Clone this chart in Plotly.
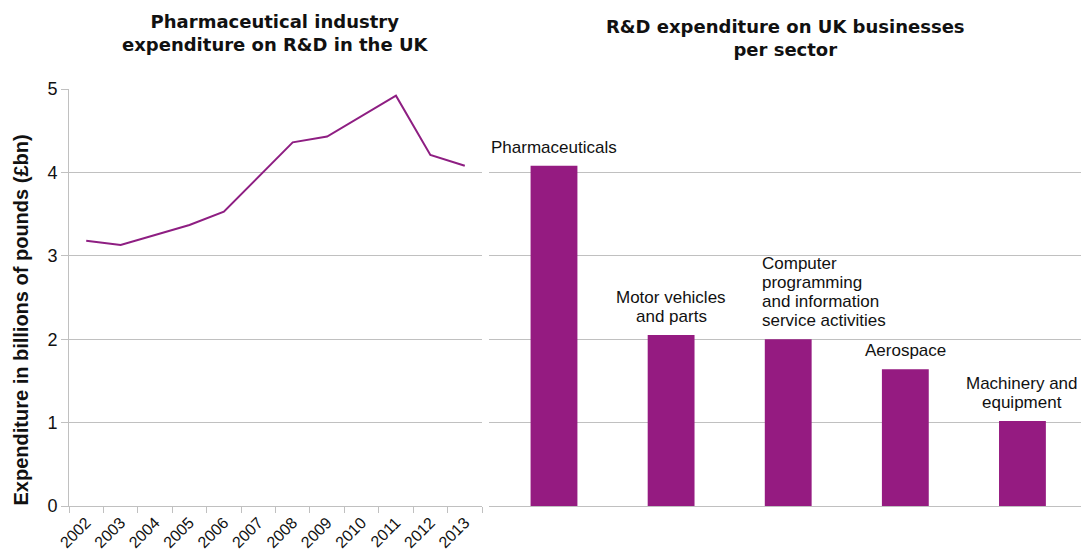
import plotly.graph_objects as go

# left chart: pharma R&D spend per year (bn GBP)
years = ['2002', '2003', '2004', '2005', '2006', '2007', '2008', '2009', '2010', '2011', '2012', '2013']
pharma_spend = [3.18, 3.13, 3.25, 3.37, 3.53, 3.94, 4.36, 4.43, 4.68, 4.92, 4.21, 4.08]

# right chart: R&D spend per sector
sectors = ['Pharmaceuticals', 'Motor vehicles<br>and parts',
           'Computer<br>programming<br>and information<br>service activities',
           'Aerospace', 'Machinery and<br>equipment']
sector_spend = [4.08, 2.05, 2.00, 1.64, 1.02]

purple = '#951B81'
grid = '#C0C0C0'
font = 'Liberation Sans, Arial, Helvetica, sans-serif'
bold_font = 'DejaVu Sans, Liberation Sans, sans-serif'
W, H = 1083, 552

fig = go.Figure()
fig.add_trace(go.Scatter(
    x=years, y=pharma_spend, mode='lines',
    line=dict(color='#8E1E82', width=2),
    xaxis='x', yaxis='y', showlegend=False
))
fig.add_trace(go.Bar(
    x=sectors, y=sector_spend, width=0.4,
    marker=dict(color=purple, line=dict(width=0)),
    xaxis='x2', yaxis='y2', showlegend=False
))

# sector labels above the bars, one annotation per line for tighter spacing
for i, (s, v) in enumerate(zip(sectors, sector_spend)):
    left = i == 2
    lines = s.split('<br>')
    for j, txt in enumerate(reversed(lines)):
        fig.add_annotation(
            x=s, y=v, xref='x2', yref='y2', text=txt, showarrow=False,
            xanchor='left' if left else 'center',
            xshift=-28 if left else 0, yanchor='bottom', yshift=7 + 19 * j,
            font=dict(size=17, color='#111111', family=font)
        )

fig.add_annotation(x=0.5, y=1 - 9 / H, xref='x domain', yref='paper',
                   text='<b>Pharmaceutical industry<br>expenditure on R&D in the UK</b>',
                   showarrow=False, yanchor='top', font=dict(size=18, color='#111', family=bold_font))
fig.add_annotation(x=0.5, y=1 - 14 / H, xref='x2 domain', yref='paper',
                   text='<b>R&D expenditure on UK businesses<br>per sector</b>',
                   showarrow=False, yanchor='top', font=dict(size=18, color='#111', family=bold_font))

# y-axis title sits a bit below the axis middle, as in the original
fig.add_annotation(x=20 / W, y=0.5, xref='paper', yref='y domain', yshift=-23,
                   text='<b>Expenditure in billions of pounds (£bn)</b>', textangle=-90,
                   showarrow=False, xanchor='center', yanchor='middle',
                   font=dict(size=20, color='#111', family=font))

fig.update_layout(
    width=W, height=H,
    margin=dict(l=0, r=0, t=0, b=0),
    paper_bgcolor='white', plot_bgcolor='white',
    font=dict(family=font, color='#111'),
    xaxis=dict(domain=[69 / W, 482 / W], type='category', range=[-0.5, 11.5],
               showgrid=False, showline=True, linecolor=grid, linewidth=1,
               ticks='outside', tickson='boundaries', ticklen=6, tickcolor=grid,
               tickangle=-45, tickfont=dict(size=16), automargin=False),
    yaxis=dict(domain=[46 / H, 463 / H], range=[0, 5], dtick=1,
               showgrid=True, gridcolor=grid, showline=True, linecolor=grid,
               ticks='outside', ticklen=7, tickcolor=grid, tickfont=dict(size=18),
               zeroline=False, automargin=False),
    xaxis2=dict(domain=[489 / W, 1081 / W], type='category', anchor='y2',
                showgrid=False, showline=True, linecolor=grid, showticklabels=False,
                ticks='', automargin=False),
    yaxis2=dict(domain=[46 / H, 463 / H], range=[0, 5], dtick=1, anchor='x2',
                showgrid=True, gridcolor=grid, showline=False, showticklabels=False,
                zeroline=False, automargin=False),
)

fig.write_html('out.html', config={'displayModeBar': False},
               post_script="document.body.style.margin='0';")
